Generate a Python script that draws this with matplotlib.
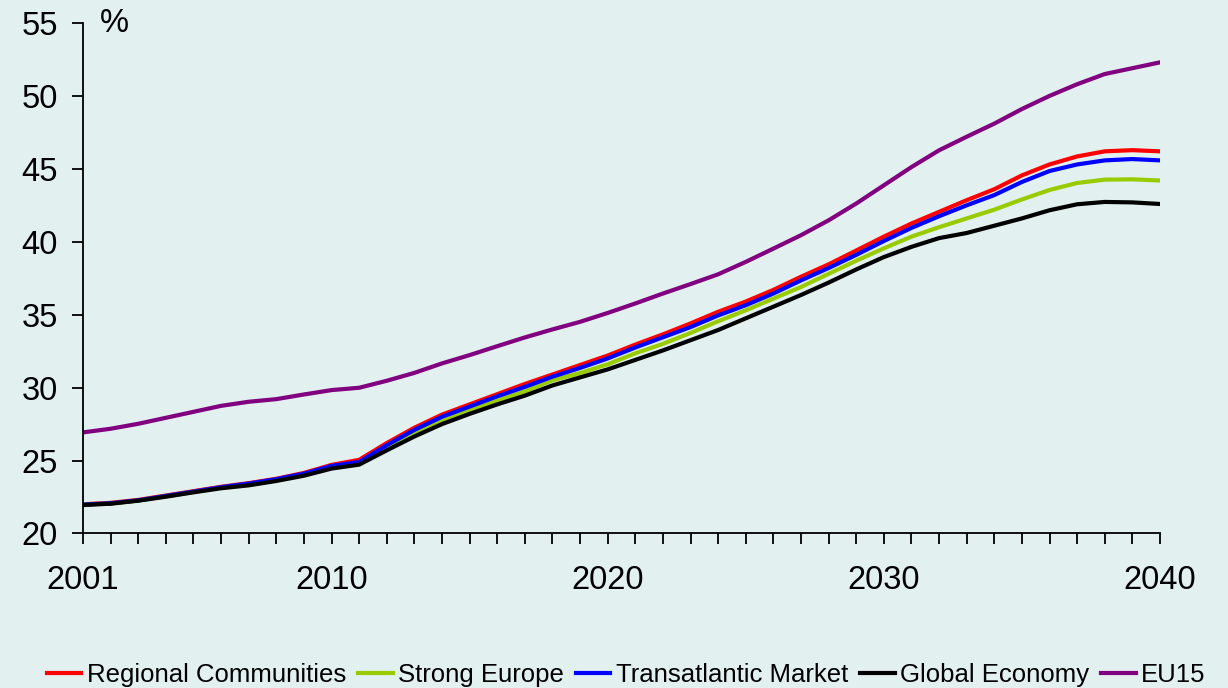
import matplotlib
matplotlib.use("Agg")
import matplotlib.pyplot as plt

plt.rcParams["font.family"] = ["Liberation Sans", "DejaVu Sans"]

years = list(range(2001, 2041))
year_labels = [2001, 2010, 2020, 2030, 2040]

regional = [22.0, 22.1, 22.3, 22.6, 22.9, 23.2, 23.45, 23.75, 24.15, 24.7,
            25.05, 26.2, 27.25, 28.15, 28.85, 29.55, 30.25, 30.9, 31.55, 32.2,
            32.95, 33.65, 34.4, 35.2, 35.9, 36.7, 37.6, 38.45, 39.4, 40.35,
            41.25, 42.05, 42.85, 43.6, 44.55, 45.3, 45.85, 46.2, 46.28, 46.2]
strong = [22.0, 22.05, 22.25, 22.55, 22.85, 23.15, 23.35, 23.65, 24.05, 24.55,
          24.85, 25.85, 26.85, 27.7, 28.45, 29.1, 29.75, 30.5, 31.0, 31.6,
          32.35, 33.0, 33.75, 34.55, 35.3, 36.1, 36.9, 37.8, 38.7, 39.55,
          40.35, 41.0, 41.6, 42.2, 42.9, 43.55, 44.03, 44.26, 44.28, 44.2]
transatlantic = [21.98, 22.07, 22.27, 22.57, 22.87, 23.17, 23.42, 23.72, 24.1, 24.63,
                 24.9, 26.05, 27.1, 28.0, 28.7, 29.4, 30.05, 30.75, 31.35, 32.0,
                 32.75, 33.45, 34.15, 34.95, 35.65, 36.45, 37.35, 38.2, 39.1, 40.05,
                 40.95, 41.75, 42.5, 43.2, 44.1, 44.85, 45.3, 45.58, 45.67, 45.58]
global_econ = [21.95, 22.04, 22.25, 22.52, 22.82, 23.1, 23.3, 23.6, 23.96, 24.45,
               24.72, 25.7, 26.65, 27.5, 28.2, 28.85, 29.45, 30.15, 30.7, 31.25,
               31.9, 32.55, 33.25, 33.95, 34.75, 35.55, 36.35, 37.2, 38.1, 38.95,
               39.65, 40.25, 40.6, 41.1, 41.6, 42.16, 42.57, 42.73, 42.7, 42.59]
eu15 = [26.93, 27.18, 27.52, 27.93, 28.34, 28.75, 29.03, 29.21, 29.53, 29.83,
        29.99, 30.47, 31.01, 31.66, 32.23, 32.84, 33.44, 33.99, 34.51, 35.12,
        35.77, 36.45, 37.1, 37.77, 38.62, 39.53, 40.45, 41.47, 42.62, 43.87,
        45.12, 46.27, 47.2, 48.1, 49.1, 50.0, 50.8, 51.5, 51.9, 52.3]

series = [
    ("Regional Communities", regional, "#ff0000"),
    ("Strong Europe", strong, "#99cc00"),
    ("Transatlantic Market", transatlantic, "#0000ff"),
    ("Global Economy", global_econ, "#000000"),
    ("EU15", eu15, "#800080"),
]

bg = "#e2f0f0"
fig = plt.figure(figsize=(12.28, 6.88), dpi=100, facecolor=bg)
ax = fig.add_axes([0.0676, 0.2246, 0.877, 0.742], facecolor=bg)

for name, values, color in series:
    ax.plot(years, values, color=color, lw=3.0, label=name,
            solid_joinstyle="round")

ax.set_xlim(2001, 2040)
ax.set_ylim(20, 55)
ax.set_yticks(range(20, 56, 5))
ax.set_xticks(years, minor=True)
ax.set_xticks(year_labels)
ax.tick_params(axis="y", direction="out", length=8, width=1.3, pad=10,
               labelsize=23.5)
ax.tick_params(axis="x", which="both", direction="out", length=8, width=1.3,
               pad=15, labelsize=23.5)
for side in ("top", "right"):
    ax.spines[side].set_visible(False)
for side in ("left", "bottom"):
    ax.spines[side].set_linewidth(1.3)

fig.text(100 / 1228, 1 - 23 / 688, "%", fontsize=23.5, va="center", ha="left")

# legend below the axes, handles a bit longer than the default proportion
fig.legend(loc="center", bbox_to_anchor=(0.51, 0.019), ncol=5, frameon=False,
           fontsize=18.5, handlelength=1.35, handletextpad=0.22,
           columnspacing=0.45, borderaxespad=0)

fig.savefig("out.png", dpi=100, facecolor=bg)
